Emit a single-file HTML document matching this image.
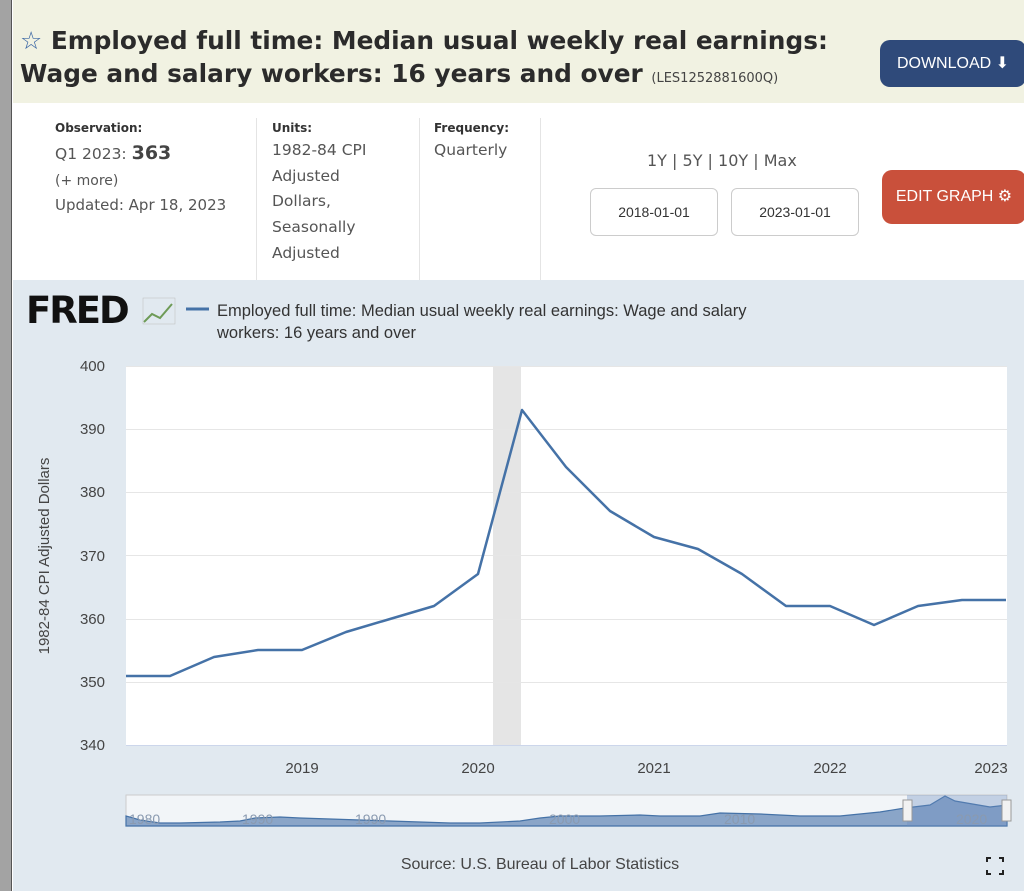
<!DOCTYPE html>
<html><head><meta charset="utf-8"><style>
*{margin:0;padding:0;box-sizing:border-box}
body{width:1024px;height:891px;overflow:hidden;font-family:"Liberation Sans","DejaVu Sans",sans-serif;background:#fff;position:relative}
.lb{position:absolute;left:0;top:0;width:12px;height:891px;background:#a3a3a3;border-right:1px solid #555}
.hd{position:absolute;left:13px;top:0;right:0;height:103px;background:#f1f2e2}
.t{position:absolute;left:20px;top:24px;font-family:"DejaVu Sans",sans-serif;font-weight:bold;font-size:24.8px;line-height:33px;color:#2b2b2b}
.t small{font-size:13px;font-weight:normal;color:#444}
.btn{position:absolute;color:#fff;font-size:16px;border-radius:10px;text-align:center}
.lbl{position:absolute;font-family:"DejaVu Sans",sans-serif;font-size:12px;font-weight:bold;color:#333}
.v{position:absolute;font-family:"DejaVu Sans",sans-serif;font-size:15.5px;color:#555;line-height:25.7px}
.sep{position:absolute;top:118px;width:1px;height:162px;background:#e4e4e4}
.in{position:absolute;top:188px;height:48px;border:1px solid #ccc;border-radius:6px;font-size:14px;color:#333;text-align:center;line-height:46px}
.ch{position:absolute;left:13px;top:280px;right:0;bottom:0;background:#e1e9f0}
</style></head><body>
<div class="lb"></div>
<div class="hd"></div>
<div class="t"><span style="color:#3b67a4;font-weight:normal">☆</span> Employed full time: Median usual weekly real earnings:<br>Wage and salary workers: 16 years and over <small>(LES1252881600Q)</small></div>
<div class="btn" style="left:880px;top:40px;width:146px;height:47px;background:#2f4a7a;line-height:47px">DOWNLOAD ⬇</div>
<div class="lbl" style="left:55px;top:121px">Observation:</div>
<div class="v" style="left:55px;top:141px">Q1 2023: <b style="font-size:19px;color:#444">363</b></div>
<div class="v" style="left:55px;top:169px;font-size:14px">(+ more)</div>
<div class="v" style="left:55px;top:193px;font-size:15px">Updated: Apr 18, 2023</div>
<div class="sep" style="left:256px"></div>
<div class="lbl" style="left:272px;top:121px">Units:</div>
<div class="v" style="left:272px;top:138px">1982-84 CPI<br>Adjusted<br>Dollars,<br>Seasonally<br>Adjusted</div>
<div class="sep" style="left:419px"></div>
<div class="lbl" style="left:434px;top:121px">Frequency:</div>
<div class="v" style="left:434px;top:138px">Quarterly</div>
<div class="sep" style="left:540px"></div>
<div class="v" style="left:647px;top:148px;font-size:16px">1Y | 5Y | 10Y | Max</div>
<div class="in" style="left:590px;width:128px">2018-01-01</div>
<div class="in" style="left:731px;width:128px">2023-01-01</div>
<div class="btn" style="left:882px;top:170px;width:144px;height:54px;background:#c9503b;line-height:54px">EDIT GRAPH ⚙</div>
<div class="ch"></div>
<svg style="position:absolute;left:0;top:0" width="1024" height="891" font-family="Liberation Sans, sans-serif">
<text x="26" y="323" font-size="37" font-weight="900" fill="#111" font-family="DejaVu Sans" letter-spacing="-2">FRED</text>
<polyline points="144,322 152,314 160,318 172,304" fill="none" stroke="#6e9b57" stroke-width="2"/>
<rect x="143" y="298" width="32" height="26" fill="none" stroke="#bbb" stroke-width="0.5"/>
<line x1="186" y1="309" x2="209" y2="309" stroke="#4572a7" stroke-width="3"/>
<text x="217" y="316" font-size="16.5" fill="#333">Employed full time: Median usual weekly real earnings: Wage and salary</text>
<text x="217" y="338" font-size="16.5" fill="#333">workers: 16 years and over</text>
<rect x="126" y="366" width="881" height="379" fill="#fff"/>
<rect x="493" y="366" width="28" height="379" fill="#e5e5e5"/>
<g stroke="#e6e6e6" stroke-width="1">
<line x1="126" x2="1007" y1="366.5" y2="366.5"/><line x1="126" x2="1007" y1="429.5" y2="429.5"/><line x1="126" x2="1007" y1="492.5" y2="492.5"/><line x1="126" x2="1007" y1="555.5" y2="555.5"/><line x1="126" x2="1007" y1="619.5" y2="619.5"/><line x1="126" x2="1007" y1="682.5" y2="682.5"/></g>
<line x1="126" x2="1007" y1="745.5" y2="745.5" stroke="#ccd6eb"/>
<g font-size="15" fill="#444" text-anchor="end"><text x="105" y="371">400</text><text x="105" y="434">390</text><text x="105" y="497">380</text><text x="105" y="561">370</text><text x="105" y="624">360</text><text x="105" y="687">350</text><text x="105" y="750">340</text></g>
<g font-size="15" fill="#444" text-anchor="middle"><text x="302" y="773">2019</text><text x="478" y="773">2020</text><text x="654" y="773">2021</text><text x="830" y="773">2022</text><text x="991" y="773">2023</text></g>
<text transform="translate(49,556) rotate(-90)" font-size="15" fill="#444" text-anchor="middle">1982-84 CPI Adjusted Dollars</text>
<polyline fill="none" stroke="#4572a7" stroke-width="2.5" stroke-linejoin="round" points="126,676 170,676 214,657 258,650 302,650 346,632 390,619 434,606 478,574 522,410 566,467 610,511 654,537 698,549 742,574 786,606 830,606 874,625 918,606 962,600 1006,600"/>
<rect x="126" y="795" width="881" height="31" fill="#f2f5f8" stroke="#ccc"/>
<path d="M126,816 L140,820 160,823 180,823 220,822 240,821 255,818 280,817 300,818 330,819 360,820 390,821 420,822 450,823 480,823 520,821 540,818 560,816 600,816 640,815 660,816 700,816 720,813 760,814 800,816 840,816 880,812 905,808 930,805 945,796 955,801 990,807 1007,805 L1007,826 L126,826Z" fill="#8aa5c8" stroke="#4572a7" stroke-width="1.2"/>
<rect x="907" y="795" width="100" height="31" fill="#6b8cc0" fill-opacity="0.35"/>
<g font-size="14" fill="#8a9ab0"><text x="129" y="824">1980</text><text x="242" y="824">1990</text><text x="355" y="824">1990</text><text x="549" y="824">2000</text><text x="724" y="824">2010</text><text x="956" y="824">2020</text></g>
<rect x="903" y="800" width="9" height="21" fill="#f2f2f2" stroke="#999"/><rect x="1002" y="800" width="9" height="21" fill="#f2f2f2" stroke="#999"/>
<text x="540" y="869" font-size="16" fill="#444" text-anchor="middle">Source: U.S. Bureau of Labor Statistics</text>
<path d="M987,862v-4h4M999,858h4v4M1003,870v4h-4M991,874h-4v-4" stroke="#222" stroke-width="2" fill="none"/>
</svg>
</body></html>
